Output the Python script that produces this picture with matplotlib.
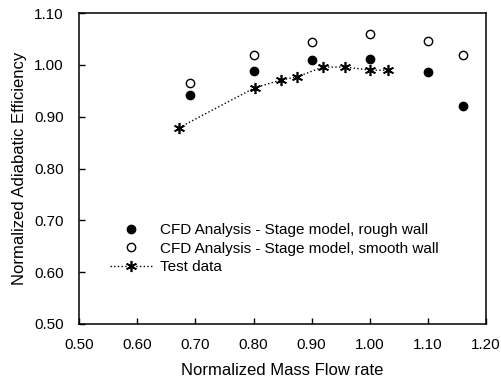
import matplotlib
matplotlib.use("Agg")
import matplotlib.pyplot as plt

plt.rcParams['font.family'] = ['Liberation Sans', 'DejaVu Sans']

# CFD, rough wall (filled circles)
rough_x = [0.69, 0.80, 0.90, 1.00, 1.10, 1.16]
rough_y = [0.942, 0.989, 1.009, 1.011, 0.987, 0.920]

# CFD, smooth wall (open circles)
smooth_x = [0.69, 0.80, 0.90, 1.00, 1.10, 1.16]
smooth_y = [0.966, 1.019, 1.045, 1.059, 1.046, 1.020]

# test data
test_x = [0.672, 0.802, 0.847, 0.875, 0.919, 0.958, 1.001, 1.031]
test_y = [0.879, 0.956, 0.971, 0.977, 0.996, 0.996, 0.990, 0.990]

ticks_x = [0.50, 0.60, 0.70, 0.80, 0.90, 1.00, 1.10, 1.20]
ticks_y = [0.50, 0.60, 0.70, 0.80, 0.90, 1.00, 1.10]

fig = plt.figure(figsize=(5.01, 3.88), dpi=100)
ax = fig.add_axes([0.158, 0.165, 0.812, 0.801])

ax.plot(rough_x, rough_y, 'o', color='black', markersize=6,
        label='CFD Analysis - Stage model, rough wall')
ax.plot(smooth_x, smooth_y, 'o', markerfacecolor='white', markeredgecolor='black',
        markeredgewidth=1.0, markersize=6,
        label='CFD Analysis - Stage model, smooth wall')
ax.plot(test_x, test_y, linestyle=':', color='black', linewidth=1.0,
        marker=(6, 2, 0), markersize=8, markeredgewidth=1.2,
        label='Test data')

ax.set_xlim(0.5, 1.2)
ax.set_ylim(0.5, 1.1)
ax.set_xticks(ticks_x)
ax.set_yticks(ticks_y)
ax.set_xticklabels([f'{t:.2f}' for t in ticks_x])
ax.set_yticklabels([f'{t:.2f}' for t in ticks_y])
ax.tick_params(direction='in', length=4, width=1, labelsize=11)
ax.tick_params(axis='x', pad=10)
ax.tick_params(axis='y', pad=11)
for s in ax.spines.values():
    s.set_linewidth(1.1)

ax.set_xlabel('Normalized Mass Flow rate', fontsize=12, labelpad=8)
ax.set_ylabel('Normalized Adiabatic Efficiency', fontsize=12, labelpad=5)

ax.legend(loc='lower left', bbox_to_anchor=(0.076, 0.16), frameon=False,
          borderpad=0, borderaxespad=0,
          fontsize=11, handlelength=2.8, handletextpad=0.45, labelspacing=0.3)

fig.savefig('out.png', dpi=100)
